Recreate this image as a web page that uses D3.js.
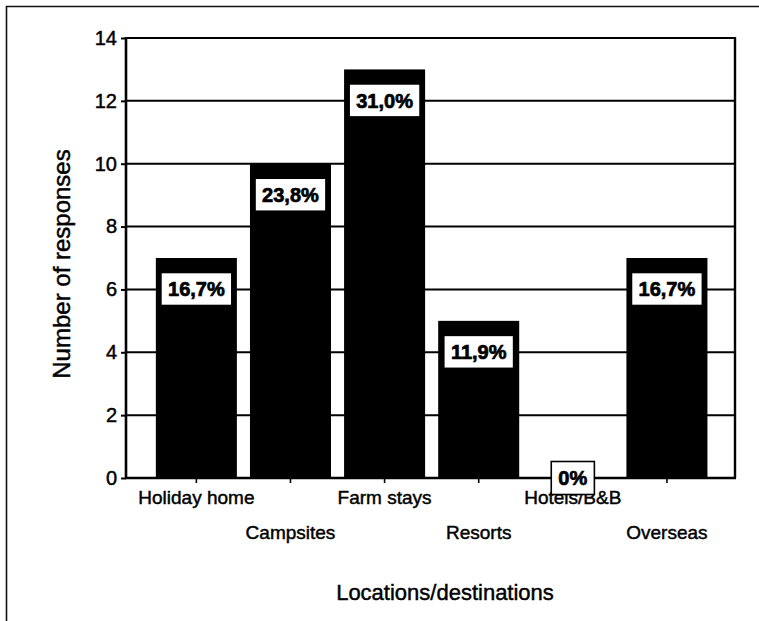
<!DOCTYPE html>
<html>
<head>
<meta charset="utf-8">
<script src="https://cdn.jsdelivr.net/npm/d3@7"></script>
<style>
  body { margin: 0; background: #fff; }
  svg { display: block; font-family: Arial, "Liberation Sans", Helvetica, sans-serif; }
  .ink { stroke: #000; stroke-width: 0.45px; paint-order: stroke; }
</style>
</head>
<body>
<svg id="chart" width="759" height="621"></svg>
<script>
// Survey responses by holiday location
const categories = ["Holiday home", "Campsites", "Farm stays", "Resorts", "Hotels/B&B", "Overseas"];
const responses = [7, 10, 13, 5, 0, 7];
const shareLabels = ["16,7%", "23,8%", "31,0%", "11,9%", "0%", "16,7%"];
const yTicks = [0, 2, 4, 6, 8, 10, 12, 14];

const svg = d3.select("#chart");
const plot = { left: 126, right: 735, top: 38, bottom: 478 };

const x = d3.scaleBand()
  .domain(categories)
  .range([plot.left, plot.right])
  .paddingInner(0.139)
  .paddingOuter(0.305)
  .align(0.52);

const y = d3.scaleLinear()
  .domain([0, 14])
  .range([plot.bottom, plot.top]);

// Outer chart frame (runs off the right and bottom edges)
svg.append("path")
  .attr("d", "M6.5,640 V6.5 H780")
  .attr("fill", "none")
  .attr("stroke", "#111")
  .attr("stroke-width", 1.6);

// Horizontal gridlines
svg.append("g")
  .selectAll("line")
  .data(yTicks.filter(t => t > 0))
  .join("line")
  .attr("x1", plot.left)
  .attr("x2", plot.right)
  .attr("y1", d => y(d))
  .attr("y2", d => y(d))
  .attr("stroke", "#000")
  .attr("stroke-width", 2);

// Right edge of the plot area
svg.append("line")
  .attr("x1", plot.right).attr("x2", plot.right)
  .attr("y1", plot.top - 1).attr("y2", plot.bottom)
  .attr("stroke", "#000").attr("stroke-width", 2.4);

// Bars
svg.append("g")
  .selectAll("rect")
  .data(categories)
  .join("rect")
  .attr("x", d => x(d))
  .attr("width", x.bandwidth())
  .attr("y", (d, i) => y(responses[i]))
  .attr("height", (d, i) => y(0) - y(responses[i]))
  .attr("fill", "#000");

// Y axis
const yAxis = svg.append("g")
  .attr("transform", `translate(${plot.left},0)`)
  .call(d3.axisLeft(y).tickValues(yTicks).tickSize(5).tickPadding(4).tickFormat(d3.format("d")));
yAxis.select(".domain").attr("stroke", "#000").attr("stroke-width", 2.6)
  .attr("d", `M0,${plot.top - 1}V${plot.bottom + 1}`);
yAxis.selectAll(".tick line").attr("stroke", "#000").attr("stroke-width", 2);
yAxis.selectAll(".tick text")
  .attr("class", "ink")
  .attr("font-size", 20).attr("font-family", null).attr("fill", "#000");

// X axis with staggered category labels
const xAxis = svg.append("g")
  .attr("transform", `translate(0,${plot.bottom})`)
  .call(d3.axisBottom(x).tickSize(5).tickPadding(0));
xAxis.select(".domain").attr("stroke", "#000").attr("stroke-width", 2.6)
  .attr("d", `M${plot.left - 1},0H${plot.right + 1}`);
xAxis.selectAll(".tick line").attr("stroke", "#000").attr("stroke-width", 1.6);
xAxis.selectAll(".tick text")
  .attr("class", "ink")
  .attr("font-size", 19).attr("font-family", null).attr("fill", "#000")
  .attr("dy", null)
  .attr("y", (d, i) => i % 2 === 0 ? 26 : 61);

// Axis titles
svg.append("text")
  .attr("class", "ink")
  .attr("x", 445).attr("y", 600)
  .attr("text-anchor", "middle")
  .attr("font-size", 22)
  .text("Locations/destinations");

svg.append("text")
  .attr("class", "ink")
  .attr("transform", "translate(70,264) rotate(-90)")
  .attr("text-anchor", "middle")
  .attr("font-size", 24)
  .text("Number of responses");

// Percentage labels in boxes at the inside end of each bar
const labels = svg.append("g")
  .selectAll("g")
  .data(categories)
  .join("g")
  .attr("transform", (d, i) => {
    const top = y(responses[i]);
    const cy = top + Math.min(31, (y(0) - top) / 2);
    return `translate(${x(d) + x.bandwidth() / 2},${cy})`;
  });

labels.append("rect").attr("class", "box");
labels.append("text")
  .attr("class", "ink")
  .attr("text-anchor", "middle")
  .attr("dy", "0.36em")
  .attr("font-size", 20)
  .attr("font-weight", "bold")
  .style("stroke-width", "0.7px")
  .text((d, i) => shareLabels[i]);

labels.each(function () {
  const g = d3.select(this);
  const w = g.select("text").node().getBBox().width + 14;
  const h = 33;
  g.select("rect")
    .attr("x", -w / 2).attr("y", -h / 2)
    .attr("width", w).attr("height", h)
    .attr("fill", "#fff")
    .attr("stroke", "#000")
    .attr("stroke-width", 1.6);
});
</script>
</body>
</html>
